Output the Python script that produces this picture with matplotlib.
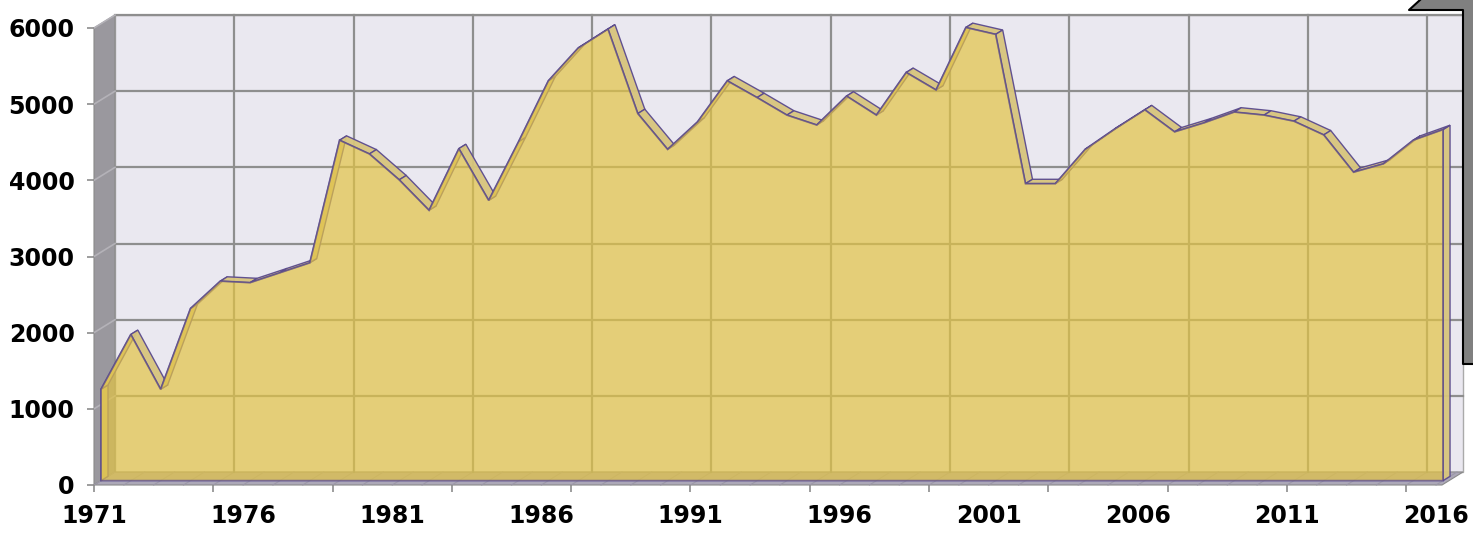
import numpy as np
import matplotlib
matplotlib.use('Agg')
import matplotlib.pyplot as plt
from matplotlib.patches import Polygon
from matplotlib.lines import Line2D
from matplotlib.transforms import IdentityTransform

# Default text settings
plt.rcParams['font.family'] = 'DejaVu Sans'
plt.rcParams['font.weight'] = 'bold'
plt.rcParams['font.size'] = 17

# Data
years = list(range(1971, 2017))
values = [1200, 1920, 1200, 2260, 2620, 2600, 2730, 2860, 4470, 4290,
          3950, 3550, 4360, 3680, 4450, 5250, 5680, 5930, 4820, 4350,
          4710, 5250, 5030, 4800, 4670, 5050, 4800, 5360, 5130, 5950,
          5860, 3900, 3900, 4350, 4620, 4870, 4580, 4700, 4840, 4800,
          4720, 4540, 4050, 4160, 4470, 4610]
label_years = [1971, 1976, 1981, 1986, 1991, 1996, 2001, 2006, 2011, 2016]
grid_years = list(range(1971, 2016, 4))
y_ticks = [0, 1000, 2000, 3000, 4000, 5000, 6000]

# Colours
WALL = '#EAE8F0'
GRID = '#8E8E8E'
SIDE_WALL = '#9A989E'
FLOOR = '#ACA8B8'
AREA = '#E2C345'
BAND = '#D8C57C'
EDGE = '#5A4A8E'

# 3D box depth in pixels (x to the right, y up)
DEPTH = np.array([21.0, 13.0])

fig = plt.figure(figsize=(14.73, 5.37), dpi=100)
ax = fig.add_axes([94 / 1473, 52 / 537, 1348 / 1473, 457 / 537])
ax.set_xlim(1971, 2016.2)
ax.set_ylim(0, 6000)
ax.set_autoscale_on(False)
ax.patch.set_visible(False)
for s in ax.spines.values():
    s.set_visible(False)


def proj(xs, vs, d):
    """data -> pixel, pushed back by fraction d of the box depth"""
    pts = ax.transData.transform(np.column_stack([np.atleast_1d(xs), np.atleast_1d(vs)]))
    return pts + d * DEPTH


def face(pts, z, **kw):
    p = Polygon(pts, closed=True, transform=IdentityTransform(), clip_on=False, zorder=z, **kw)
    ax.add_patch(p)
    return p


def seg(pts, z, **kw):
    ax.plot(pts[:, 0], pts[:, 1], transform=IdentityTransform(), clip_on=False, zorder=z, **kw)


x0, x1 = ax.get_xlim()
y1 = ax.get_ylim()[1]

# walls and floor
face(proj([x0, x1, x1, x0], [0, 0, y1, y1], 1), 0.5, fc=WALL, ec='#AAAAAA', lw=1.0)
face(np.vstack([proj([x0, x0], [0, y1], 0), proj([x0, x0], [y1, 0], 1)]), 0.6,
     fc=SIDE_WALL, ec='#8A8A8A', lw=0.8)
face(np.vstack([proj([x0, x1], [0, 0], 0), proj([x1, x0], [0, 0], 1)]), 0.6,
     fc=FLOOR, ec='#8A8A8A', lw=0.8)

# gridlines
for v in y_ticks[1:]:
    seg(proj([x0, x1], [v, v], 1), 0.8, color=GRID, lw=1.6)
    seg(np.vstack([proj(x0, v, 0), proj(x0, v, 1)]), 0.8, color='#B4B2B8', lw=1.2)
for g in grid_years[1:]:
    seg(proj([g, g], [0, y1], 1), 0.8, color=GRID, lw=1.6)
for yr in years:
    seg(np.vstack([proj(yr, 0, 0), proj(yr, 0, 1)]), 0.7, color='#9C98A8', lw=0.8)

# the area slab
xv = np.array(years, float)
vv = np.array(values, float)
front = proj(xv, vv, 1 / 3)
back = proj(xv, vv, 2 / 3)
f0, fN = proj([xv[0], xv[-1]], [0, 0], 1 / 3)
b0, bN = proj([xv[0], xv[-1]], [0, 0], 2 / 3)

face(np.vstack([f0, front[0], back[0], b0]), 2.5, fc=BAND, ec=EDGE, lw=1.0, alpha=0.9)
face(np.vstack([fN, front[-1], back[-1], bN]), 2.5, fc=BAND, ec=EDGE, lw=1.0, alpha=0.95)
for i in range(len(years) - 1):
    face(np.vstack([front[i], front[i + 1], back[i + 1], back[i]]), 3,
         fc=BAND, ec=EDGE, lw=1.0, alpha=0.95)
face(np.vstack([f0, front, fN]), 4, fc=AREA, ec=EDGE, lw=1.3, alpha=0.7)

# axes ticks and labels
ax.xaxis.remove_overlapping_locs = False
ax.set_yticks(y_ticks)
ax.set_yticklabels([str(t) for t in y_ticks])
ax.set_xticks(grid_years)
ax.set_xticklabels([])
ax.set_xticks(label_years, minor=True)
ax.set_xticklabels([str(y) for y in label_years], minor=True)
ax.tick_params(axis='x', which='major', length=5, width=1.2, color='#8C8C8C')
ax.tick_params(axis='x', which='minor', length=0, pad=14)
ax.tick_params(axis='y', length=5, width=1.2, color='#8C8C8C', pad=9)

# grey box corner in the top right
corner = Polygon([(1409, 527), (1420, 537), (1473, 537), (1473, 173), (1463, 173), (1463, 527)],
                 closed=True, transform=IdentityTransform(), fc='#808080', ec='none')
fig.add_artist(corner)
fig.add_artist(Line2D([1420, 1409, 1463, 1463, 1473], [537, 527, 527, 173, 173],
                      transform=IdentityTransform(), color='black', lw=1.5))

fig.savefig('out.png', dpi=100)
